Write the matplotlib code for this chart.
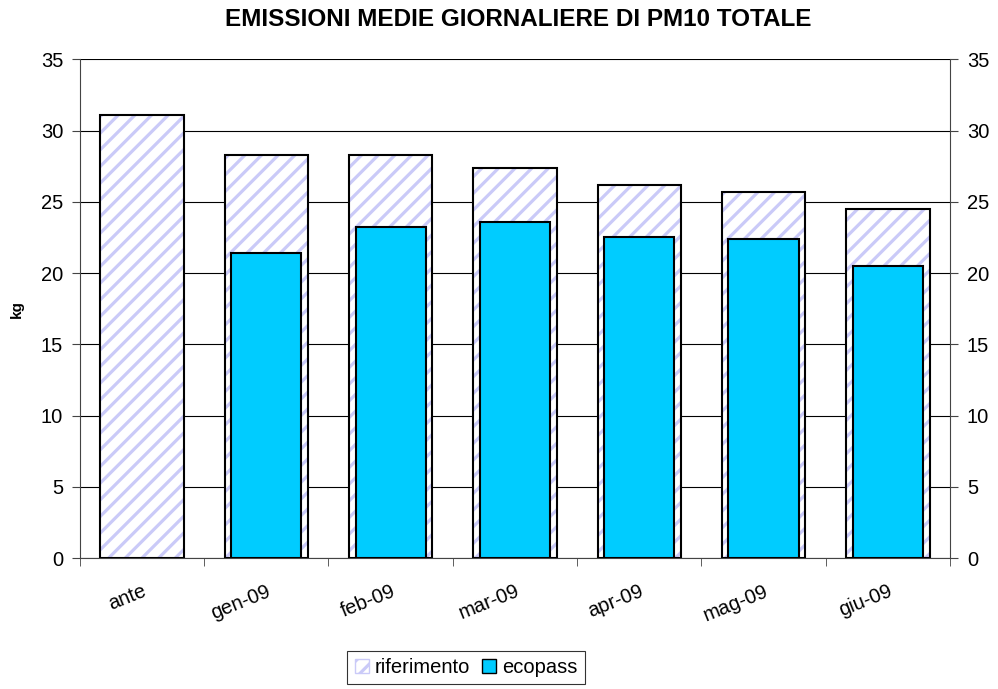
import numpy as np
import matplotlib
matplotlib.use("Agg")
import matplotlib.pyplot as plt
from matplotlib.patches import Patch

categories = ["ante", "gen-09", "feb-09", "mar-09", "apr-09", "mag-09", "giu-09"]
riferimento = [31.1, 28.3, 28.3, 27.4, 26.2, 25.7, 24.5]
ecopass = [np.nan, 21.4, 23.2, 23.6, 22.5, 22.4, 20.5]

plt.rcParams["font.family"] = ["Liberation Sans", "DejaVu Sans"]
plt.rcParams["hatch.linewidth"] = 2.3

fig = plt.figure(figsize=(9.98, 6.89), dpi=100)
ax = fig.add_axes([0.080, 0.190, 0.872, 0.724])

x = np.arange(len(categories))
lav = "#cacaf8"

# hatched reference bars, then black outline on top
ax.bar(x, riferimento, width=0.67, color="white", edgecolor=lav, hatch="//", linewidth=0, zorder=2)
ax.bar(x, riferimento, width=0.67, color="none", edgecolor="black", linewidth=1.5, zorder=3)
ax.bar(x, ecopass, width=0.565, color="#00ccff", edgecolor="black", linewidth=1.5, zorder=4)

ax.set_xlim(-0.5, len(categories) - 0.5)
ax.set_ylim(0, 35)
ax.set_yticks(np.arange(0, 36, 5))
ax.grid(axis="y", color="black", linewidth=0.8, zorder=0)
ax.set_axisbelow(True)

ax.set_xticks(x)
ax.set_xticklabels(categories, rotation=22, ha="right", rotation_mode="anchor", fontsize=14.5)
ax.set_xticks(np.arange(-0.5, len(categories)), minor=True)
ax.tick_params(axis="x", which="major", length=0, pad=17)
ax.tick_params(axis="x", which="minor", length=6, direction="out", color="#444444")
ax.tick_params(axis="y", which="major", length=6, direction="out", labelsize=14.5,
               right=True, labelright=True, color="#444444", pad=6)

for s in ax.spines.values():
    s.set_color("#444444")
ax.spines["top"].set_visible(False)

ax.set_ylabel("kg", fontsize=11, fontweight="bold", labelpad=12)
fig.text(0.519, 0.972, "EMISSIONI MEDIE GIORNALIERE DI PM10 TOTALE", fontsize=17.5,
         fontweight="bold", ha="center", va="center")

handles = [Patch(facecolor="white", edgecolor=lav, hatch="//"),
           Patch(facecolor="#00ccff", edgecolor="black")]
leg = fig.legend(handles, ["riferimento", "ecopass"], loc="lower center",
                 bbox_to_anchor=(0.467, -0.008), ncol=2, fontsize=14.5, frameon=True,
                 fancybox=False, edgecolor="black", handlelength=0.7, handleheight=0.7,
                 handletextpad=0.3, columnspacing=0.6, borderpad=0.35)
leg.get_frame().set_linewidth(0.8)

fig.savefig("out.png", dpi=100)
